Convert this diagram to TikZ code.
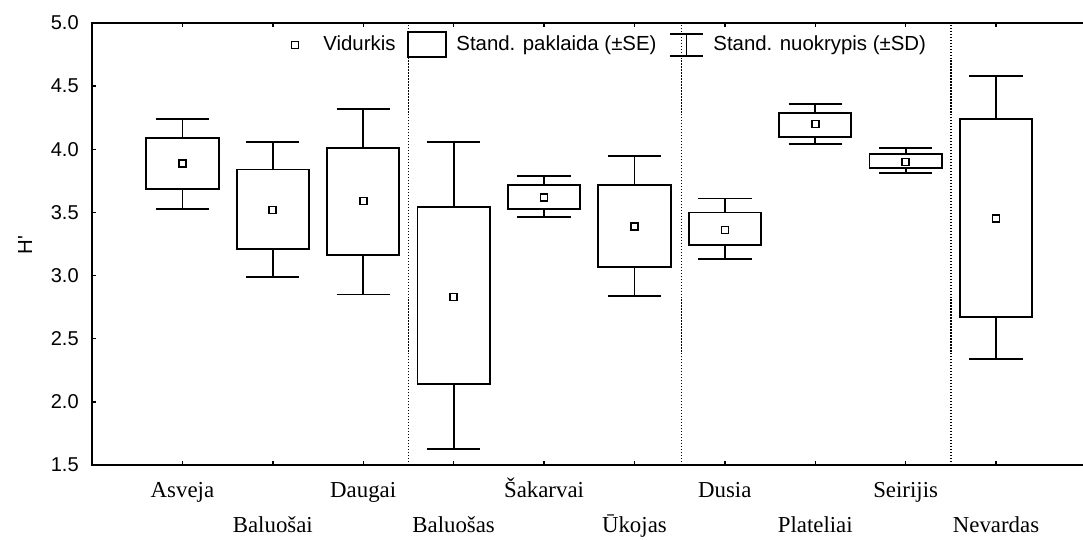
\documentclass[tikz,border=0pt]{standalone}
\usepackage{fontspec}
\setmainfont{Liberation Serif}
\setsansfont{Liberation Sans}
\begin{document}
\begin{tikzpicture}[x=1.808cm,y=2.526cm,
  axisline/.style={line width=0.8pt},
  boxse/.style={line width=1.05pt},
  whisksd/.style={line width=1.05pt},
  meanmark/.style={draw,rectangle,line width=0.95pt,inner sep=0pt,minimum size=0.14cm},
  sepline/.style={line width=0.85pt,dash pattern=on 0.7pt off 1pt},
  ticklab/.style={font=\sffamily\fontsize{11.4}{12}\selectfont,anchor=east,inner sep=0pt},
  catlab/.style={font=\fontsize{13}{14}\selectfont,anchor=base,inner sep=0pt},
  leglab/.style={font=\sffamily\fontsize{11.6}{12}\selectfont,anchor=base west,inner sep=0pt}]
\useasboundingbox (-1.018,0.914) rectangle (10.962,5.182);
\clip (-1.018,0.914) rectangle (10.962,5.182);
% frame
\draw[axisline] (0,1.5) rectangle (11,5);
% y ticks
\draw[axisline] (0,1.5) -- (0.044,1.5);
\draw[axisline] (0,2.0) -- (0.044,2.0);
\draw[axisline] (0,2.5) -- (0.044,2.5);
\draw[axisline] (0,3.0) -- (0.044,3.0);
\draw[axisline] (0,3.5) -- (0.044,3.5);
\draw[axisline] (0,4.0) -- (0.044,4.0);
\draw[axisline] (0,4.5) -- (0.044,4.5);
\draw[axisline] (0,5.0) -- (0.044,5.0);
% x ticks
\draw[axisline] (1,1.5) -- (1,1.532) (1,5) -- (1,4.968);
\draw[axisline] (2,1.5) -- (2,1.532) (2,5) -- (2,4.968);
\draw[axisline] (3,1.5) -- (3,1.532) (3,5) -- (3,4.968);
\draw[axisline] (4,1.5) -- (4,1.532) (4,5) -- (4,4.968);
\draw[axisline] (5,1.5) -- (5,1.532) (5,5) -- (5,4.968);
\draw[axisline] (6,1.5) -- (6,1.532) (6,5) -- (6,4.968);
\draw[axisline] (7,1.5) -- (7,1.532) (7,5) -- (7,4.968);
\draw[axisline] (8,1.5) -- (8,1.532) (8,5) -- (8,4.968);
\draw[axisline] (9,1.5) -- (9,1.532) (9,5) -- (9,4.968);
\draw[axisline] (10,1.5) -- (10,1.532) (10,5) -- (10,4.968);
% tick labels
\node[ticklab] (l15) at (-0.144,1.5) {1.5};
\node[ticklab] (l20) at (-0.144,2.0) {2.0};
\node[ticklab] (l25) at (-0.144,2.5) {2.5};
\node[ticklab] (l30) at (-0.144,3.0) {3.0};
\node[ticklab] (l35) at (-0.144,3.5) {3.5};
\node[ticklab] (l40) at (-0.144,4.0) {4.0};
\node[ticklab] (l45) at (-0.144,4.5) {4.5};
\node[ticklab] (l50) at (-0.144,5.0) {5.0};
\node[font=\sffamily\fontsize{11.6}{12}\selectfont,rotate=90] (ylab) at (-0.741,3.242) {H\textquotesingle};
% group separators
\draw[sepline] (3.5,1.5) -- (3.5,5);
\draw[sepline] (6.52,1.5) -- (6.52,5);
\draw[sepline] (9.5,1.5) -- (9.5,5);
% Asveja
\draw[boxse] (0.6,3.685) rectangle (1.4,4.09);
\draw[whisksd] (1,4.09) -- (1,4.24) (0.705,4.24) -- (1.295,4.24);
\draw[whisksd] (1,3.685) -- (1,3.53) (0.705,3.53) -- (1.295,3.53);
\node[meanmark] (m1) at (1,3.89) {};
% Baluosai
\draw[boxse] (1.6,3.21) rectangle (2.4,3.84);
\draw[whisksd] (2,3.84) -- (2,4.055) (1.705,4.055) -- (2.295,4.055);
\draw[whisksd] (2,3.21) -- (2,2.99) (1.705,2.99) -- (2.295,2.99);
\node[meanmark] (m2) at (2,3.52) {};
% Daugai
\draw[boxse] (2.6,3.16) rectangle (3.4,4.01);
\draw[whisksd] (3,4.01) -- (3,4.32) (2.705,4.32) -- (3.295,4.32);
\draw[whisksd] (3,3.16) -- (3,2.85) (2.705,2.85) -- (3.295,2.85);
\node[meanmark] (m3) at (3,3.59) {};
% Baluosas
\draw[boxse] (3.6,2.14) rectangle (4.4,3.545);
\draw[whisksd] (4,3.545) -- (4,4.055) (3.705,4.055) -- (4.295,4.055);
\draw[whisksd] (4,2.14) -- (4,1.63) (3.705,1.63) -- (4.295,1.63);
\node[meanmark] (m4) at (4,2.83) {};
% Sakarvai
\draw[boxse] (4.6,3.53) rectangle (5.4,3.715);
\draw[whisksd] (5,3.715) -- (5,3.79) (4.705,3.79) -- (5.295,3.79);
\draw[whisksd] (5,3.53) -- (5,3.465) (4.705,3.465) -- (5.295,3.465);
\node[meanmark] (m5) at (5,3.62) {};
% Ukojas
\draw[boxse] (5.6,3.07) rectangle (6.4,3.715);
\draw[whisksd] (6,3.715) -- (6,3.95) (5.705,3.95) -- (6.295,3.95);
\draw[whisksd] (6,3.07) -- (6,2.84) (5.705,2.84) -- (6.295,2.84);
\node[meanmark] (m6) at (6,3.39) {};
% Dusia
\draw[boxse] (6.6,3.24) rectangle (7.4,3.50);
\draw[whisksd] (7,3.50) -- (7,3.61) (6.705,3.61) -- (7.295,3.61);
\draw[whisksd] (7,3.24) -- (7,3.13) (6.705,3.13) -- (7.295,3.13);
\node[meanmark] (m7) at (7,3.36) {};
% Plateliai
\draw[boxse] (7.6,4.10) rectangle (8.4,4.285);
\draw[whisksd] (8,4.285) -- (8,4.36) (7.705,4.36) -- (8.295,4.36);
\draw[whisksd] (8,4.10) -- (8,4.04) (7.705,4.04) -- (8.295,4.04);
\node[meanmark] (m8) at (8,4.20) {};
% Seirijis
\draw[boxse] (8.6,3.855) rectangle (9.4,3.96);
\draw[whisksd] (9,3.96) -- (9,4.01) (8.705,4.01) -- (9.295,4.01);
\draw[whisksd] (9,3.855) -- (9,3.81) (8.705,3.81) -- (9.295,3.81);
\node[meanmark] (m9) at (9,3.90) {};
% Nevardas
\draw[boxse] (9.6,2.67) rectangle (10.4,4.24);
\draw[whisksd] (10,4.24) -- (10,4.58) (9.705,4.58) -- (10.295,4.58);
\draw[whisksd] (10,2.67) -- (10,2.34) (9.705,2.34) -- (10.295,2.34);
\node[meanmark] (m10) at (10,3.45) {};
% category labels
\node[catlab] (asveja) at (1,1.239) {Asveja};
\node[catlab] (baluosai) at (2,0.964) {Baluošai};
\node[catlab] (daugai) at (3,1.239) {Daugai};
\node[catlab] (baluosas) at (4,0.964) {Baluošas};
\node[catlab] (sakarvai) at (5,1.239) {Šakarvai};
\node[catlab] (ukojas) at (6,0.964) {Ūkojas};
\node[catlab] (dusia) at (7,1.239) {Dusia};
\node[catlab] (plateliai) at (8,0.964) {Plateliai};
\node[catlab] (seirijis) at (9,1.239) {Seirijis};
\node[catlab] (nevardas) at (10,0.964) {Nevardas};
% legend
\node[meanmark] (legmean) at (2.246,4.825) {};
\node[leglab] (legmeantxt) at (2.555,4.786) {Vidurkis};
\draw[boxse] (3.496,4.73) rectangle (3.916,4.928);
\node[leglab] (legsetxt) at (4.027,4.786) {Stand. paklaida (±SE)};
\draw[whisksd] (6.576,4.913) -- (6.576,4.738) (6.394,4.913) -- (6.759,4.913) (6.394,4.738) -- (6.759,4.738);
\node[leglab] (legsdtxt) at (6.87,4.786) {Stand. nuokrypis (±SD)};
\end{tikzpicture}
\end{document}
